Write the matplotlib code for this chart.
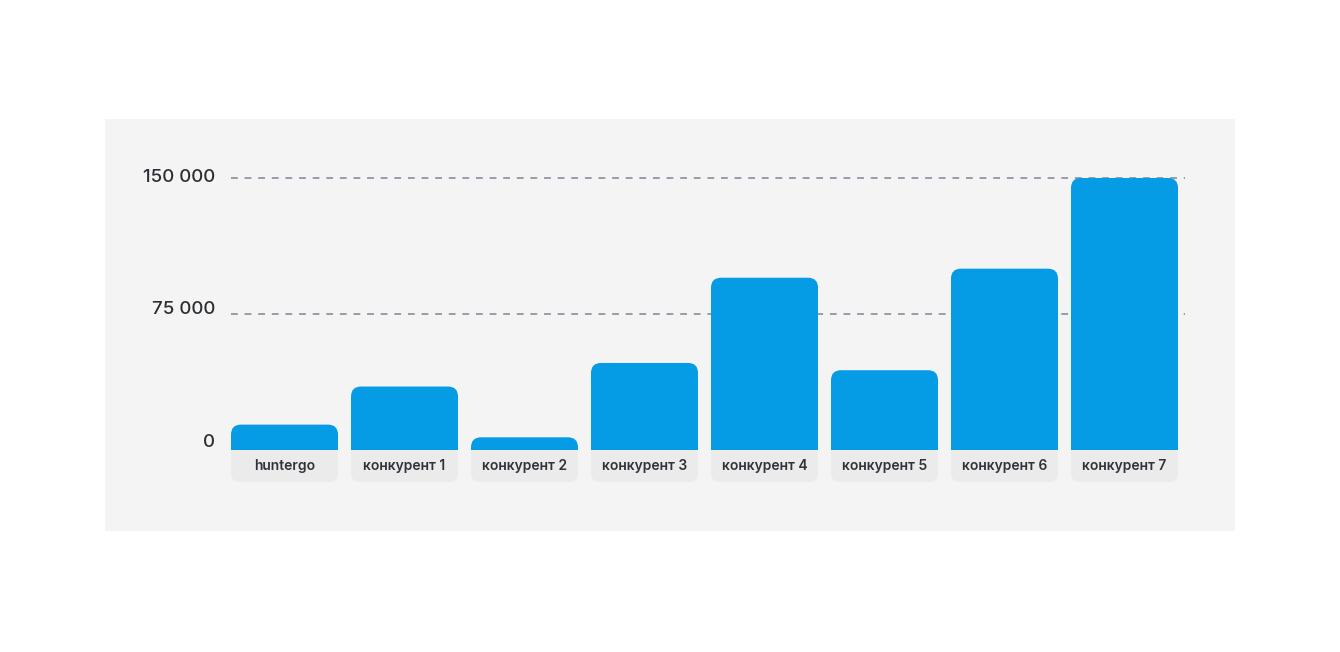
import matplotlib
matplotlib.use("Agg")
import matplotlib.pyplot as plt
from matplotlib.patches import FancyBboxPatch, Rectangle
from matplotlib.transforms import ScaledTranslation

categories = ["huntergo", "конкурент 1", "конкурент 2", "конкурент 3",
              "конкурент 4", "конкурент 5", "конкурент 6", "конкурент 7"]
values = [14000, 35000, 7000, 48000, 95000, 44000, 100000, 150000]
tick_values = [0, 75000, 150000]
tick_labels = ["0", "75 000", "150 000"]
grid_values = [75000, 150000]

BAR = "#059be5"
PANEL = "#f4f4f4"
LABELBOX = "#ebebeb"
TEXT = "#2b2f33"
GRID = "#9a9bab"

plt.rcParams['font.family'] = ['Inter', 'DejaVu Sans']

W, H = 1340, 652
fig = plt.figure(figsize=(W / 100, H / 100), dpi=100)
fig.patch.set_facecolor("white")

# panel in pixels: x 105..1235, y 119..531 (from top)
ax = fig.add_axes([105 / W, (H - 531) / H, 1130 / W, 412 / H])
ax.set_facecolor(PANEL)
for s in ax.spines.values():
    s.set_visible(False)
ax.set_xticks([])
ax.set_yticks([])

ypp = 150000 / 272.0   # data units per pixel (y)
xpp = 1 / 120.0        # data units per pixel (x)
ax.set_xlim((105 - 284.5) * xpp, (1235 - 284.5) * xpp)
ax.set_ylim(-(531 - 450) * ypp, (450 - 119) * ypp)
aspect = ypp / xpp

bar_w = 107 * xpp
r_bar = 10 * xpp
r_lab = 9 * xpp
lab_bottom = -32 * ypp

# gridlines
for g in grid_values:
    ax.plot([(231 - 284.5) * xpp, (1185 - 284.5) * xpp], [g, g],
            color=GRID, lw=1.4, ls=(0, (3.5, 3.5)), zorder=1)

for i, (cat, v) in enumerate(zip(categories, values)):
    x0 = i - bar_w / 2
    # label box (rounded bottom corners only)
    lab = FancyBboxPatch((x0, lab_bottom), bar_w, -lab_bottom + 20 * ypp,
                         boxstyle=f"round,pad=0,rounding_size={r_lab}",
                         mutation_aspect=aspect, fc=LABELBOX, ec="none", zorder=2)
    ax.add_patch(lab)
    clip_lab = Rectangle((x0 - 1, lab_bottom - 1000), bar_w + 2, -lab_bottom + 1000,
                         transform=ax.transData)
    lab.set_clip_path(clip_lab)
    # bar (rounded top corners only)
    bar = FancyBboxPatch((x0, -20 * ypp), bar_w, v + 20 * ypp,
                         boxstyle=f"round,pad=0,rounding_size={r_bar}",
                         mutation_aspect=aspect, fc=BAR, ec="none", zorder=3)
    ax.add_patch(bar)
    clip_bar = Rectangle((x0 - 1, 0), bar_w + 2, v + 1000, transform=ax.transData)
    bar.set_clip_path(clip_bar)
    ax.text(i, lab_bottom / 2, cat, ha="center", va="center", fontsize=10,
            fontweight="semibold", color="#303338", zorder=4)

# y tick labels
offsets = {0: 7.5, 75000: 4.5, 150000: 0.8}
for tv, tl in zip(tick_values, tick_labels):
    ax.text(0.0, tv, tl,
            transform=ax.get_yaxis_transform() + ScaledTranslation(110 / 100, offsets[tv] / 100, fig.dpi_scale_trans),
            ha="right", va="center", fontsize=13.5, fontweight="medium", color=TEXT)

fig.savefig("out.png", dpi=100, facecolor="white")
